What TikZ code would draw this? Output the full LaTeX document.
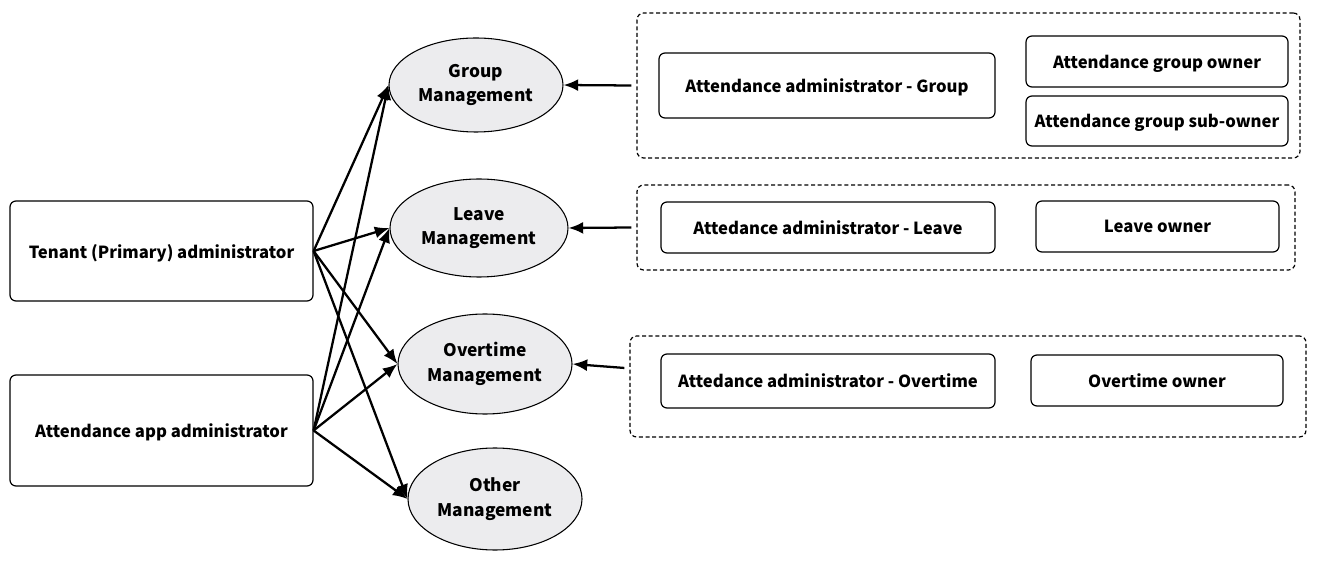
\documentclass[tikz,border=0pt]{standalone}
\usepackage{fontspec}
\setmainfont{Noto Sans CJK SC}
\usetikzlibrary{arrows.meta,shapes.geometric}
\definecolor{ellgray}{RGB}{236,236,238}
\tikzset{
  >={Latex[length=11pt,width=9pt]},
  role/.style={draw, rounded corners=4.5pt, line width=0.9pt, align=center, text depth=0pt,
    font=\fontsize{12.5}{18.5}\selectfont\bfseries},
  mgmt/.style={ellipse, draw, fill=ellgray, line width=0.8pt, align=center, inner sep=0pt,
    font=\fontsize{13}{18.5}\selectfont\bfseries},
  pool/.style={draw, dash pattern=on 3pt off 2pt, rounded corners=5pt, line width=0.9pt},
  link/.style={->, line width=1.7pt}
}

\begin{document}
\begin{tikzpicture}[x=0.75pt, y=-0.75pt]
  \useasboundingbox (0,0) rectangle (1323,566);

  % admins on the left
  \node[role, minimum width=227.25pt, minimum height=75pt] (tenant) at (161.5,251) {Tenant (Primary) administrator};
  \node[role, minimum width=227.25pt, minimum height=83.25pt] (appadm) at (161.5,430.5) {Attendance app administrator};

  % management functions
  \node[mgmt, minimum width=130.5pt, minimum height=70.5pt] (gm) at (476,85) {Group\\Management};
  \node[mgmt, minimum width=133.5pt, minimum height=73.5pt] (lm) at (479,228) {Leave\\Management};
  \node[mgmt, minimum width=130.5pt, minimum height=75pt] (om) at (485,364) {Overtime\\Management};
  \node[mgmt, minimum width=130.5pt, minimum height=76.5pt] (xm) at (495,499) {Other\\Management};

  % dashed groups of roles
  \node[pool, minimum width=497.25pt, minimum height=108.75pt] (gpool) at (968.5,85.5) {};
  \node[pool, minimum width=493.5pt, minimum height=63.75pt] (lpool) at (966,227.5) {};
  \node[pool, minimum width=507pt, minimum height=75.75pt] (opool) at (968,386.5) {};

  \node[role, minimum width=252pt, minimum height=48.75pt] (ag) at (827,85.5) {Attendance administrator - Group};
  \node[role, minimum width=196.5pt, minimum height=38.25pt] (go) at (1157,61.5) {Attendance group owner};
  \node[role, minimum width=196.5pt, minimum height=37.5pt] (gso) at (1157,121) {Attendance group sub-owner};
  \node[role, minimum width=250.5pt, minimum height=38.25pt] (al) at (828,227.5) {Attedance administrator - Leave};
  \node[role, minimum width=182.25pt, minimum height=38.25pt] (lo) at (1157.5,226.5) {Leave owner};
  \node[role, minimum width=250.5pt, minimum height=40.5pt] (ao) at (828,381) {Attedance administrator - Overtime};
  \node[role, minimum width=189pt, minimum height=38.25pt] (oo) at (1157,380.5) {Overtime owner};

  % connectors
  \foreach \src in {tenant,appadm}
    \foreach \dst in {gm,lm,om,xm}
      \draw[link] (\src.east) -- (\dst.west);

  \draw[link] ([xshift=-3.75pt]gpool.west) -- (gm.east);
  \draw[link] ([xshift=-3.75pt]lpool.west) -- (lm.east);
  \draw[link] ([xshift=-3.75pt,yshift=13.9pt]opool.west) -- (om.east);
\end{tikzpicture}
\end{document}
